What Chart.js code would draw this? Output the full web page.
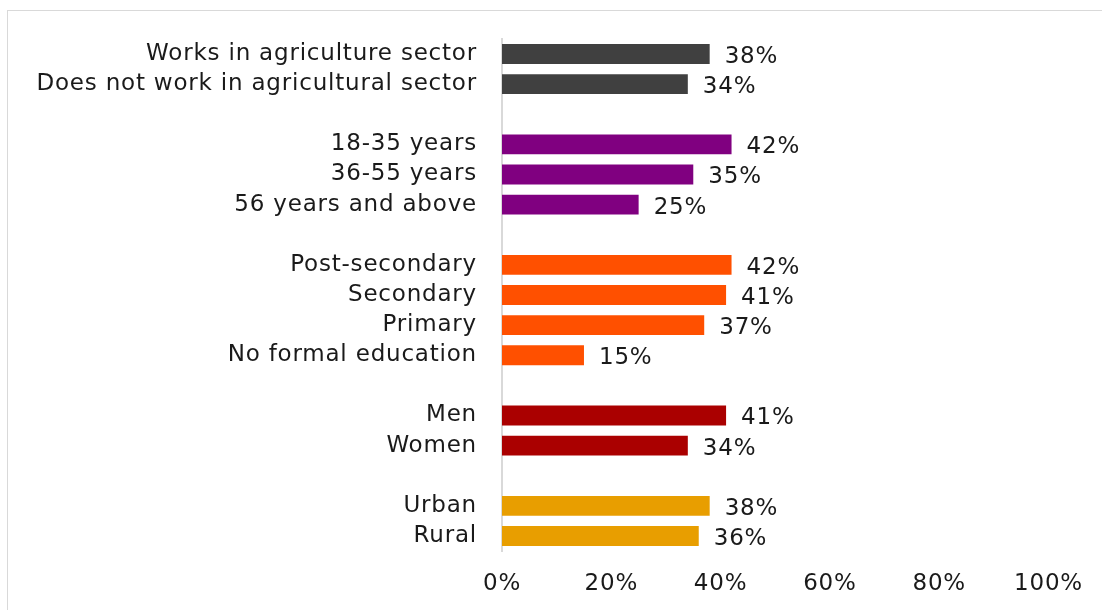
<!DOCTYPE html>
<html>
<head>
<meta charset="utf-8">
<script src="https://cdn.jsdelivr.net/npm/chart.js@4.4.1/dist/chart.umd.min.js"></script>
<style>
  html, body { margin: 0; padding: 0; background: #fff; overflow: hidden; }
  #frame {
    position: absolute; left: 7px; top: 10px;
    width: 1120px; height: 640px;
    border: 1px solid #d9d9d9;
  }
  #wrap { position: absolute; left: 0; top: 0; width: 1102px; height: 610px; }
</style>
</head>
<body>
<div id="frame"></div>
<div id="wrap"><canvas id="myChart"></canvas></div>
<script>
// Rows top to bottom; empty strings are spacer rows between groups
const categories = [
  "Works in agriculture sector",
  "Does not work in agricultural sector",
  "",
  "18-35 years",
  "36-55 years",
  "56 years and above",
  "",
  "Post-secondary",
  "Secondary",
  "Primary",
  "No formal education",
  "",
  "Men",
  "Women",
  "",
  "Urban",
  "Rural",
];

const shares = [38, 34, null, 42, 35, 25, null, 42, 41, 37, 15, null, 41, 34, null, 38, 36];

const groupColors = {
  sector: "#404040",
  age: "#800080",
  education: "#FF5000",
  sex: "#AA0000",
  area: "#E89E00",
};

const rowGroups = [
  "sector", "sector", null,
  "age", "age", "age", null,
  "education", "education", "education", "education", null,
  "sex", "sex", null,
  "area", "area",
];

const xTicks = [0, 20, 40, 60, 80, 100];

const labelFont = { family: "'DejaVu Sans', sans-serif", size: 23 };
const textSpacing = "0.8px";

// wider tracking for all canvas text
const tracking = {
  id: "tracking",
  beforeLayout(chart) { chart.ctx.letterSpacing = textSpacing; },
  beforeDraw(chart) { chart.ctx.letterSpacing = textSpacing; },
};

// draws "NN%" to the right of each bar
const valueLabels = {
  id: "valueLabels",
  afterDatasetsDraw(chart) {
    const ctx = chart.ctx;
    const meta = chart.getDatasetMeta(0);
    ctx.save();
    ctx.font = labelFont.size + "px " + labelFont.family;
    ctx.fillStyle = "#1a1a1a";
    ctx.textAlign = "left";
    ctx.textBaseline = "middle";
    meta.data.forEach((bar, i) => {
      const v = shares[i];
      if (v === null) return;
      ctx.fillText(v + "%", bar.x + 15, bar.y + 3);
    });
    ctx.restore();
  },
};

const ctx = document.getElementById("myChart").getContext("2d");
const myChart = new Chart(ctx, {
  type: "bar",
  data: {
    labels: categories,
    datasets: [
      {
        data: shares,
        backgroundColor: rowGroups.map((g) => (g ? groupColors[g] : "transparent")),
        barPercentage: 0.66,
        categoryPercentage: 1,
      },
    ],
  },
  options: {
    indexAxis: "y",
    responsive: true,
    maintainAspectRatio: false,
    animation: false,
    plugins: {
      legend: { display: false },
      tooltip: { enabled: false },
    },
    layout: {
      padding: { top: 39, right: 49, bottom: 0, left: 0 },
    },
    scales: {
      x: {
        min: 0,
        max: 100,
        afterFit: (scale) => { scale.height = 59; },
        afterBuildTicks: (scale) => {
          scale.ticks = xTicks.map((v) => ({ value: v }));
        },
        grid: { display: false, drawTicks: false },
        border: { display: false },
        ticks: {
          padding: 19,
          color: "#1a1a1a",
          font: labelFont,
          callback: (v) => v + "%",
        },
      },
      y: {
        afterFit: (scale) => { scale.width = 502; },
        grid: { display: false, drawTicks: false },
        border: { display: true, color: "#d9d9d9", width: 2 },
        ticks: {
          padding: 25,
          color: "#1a1a1a",
          font: labelFont,
          autoSkip: false,
        },
      },
    },
  },
  plugins: [tracking, valueLabels],
});
</script>
</body>
</html>
